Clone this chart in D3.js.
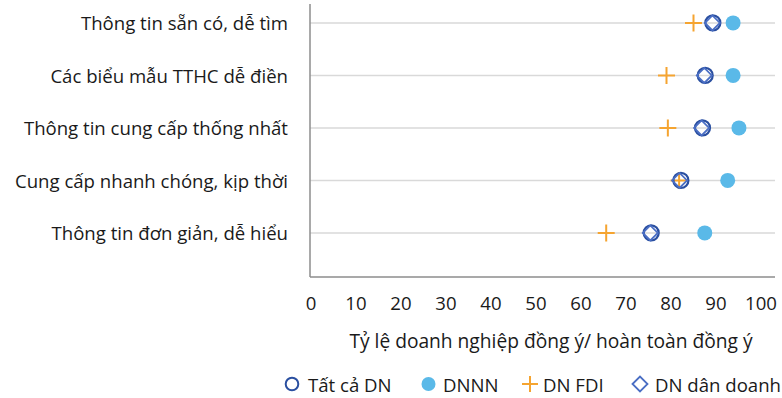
<!DOCTYPE html>
<html><head><meta charset="utf-8">
<script src="https://cdn.jsdelivr.net/npm/d3@7"></script>
<style>body{margin:0;background:#fff}svg{display:block}text{font-family:"Open Sans",sans-serif;fill:#1a1a1a}</style>
</head><body><svg id="c" width="782" height="398"></svg>
<script>
const categories = ["Thông tin sẵn có, dễ tìm","Các biểu mẫu TTHC dễ điền","Thông tin cung cấp thống nhất","Cung cấp nhanh chóng, kịp thời","Thông tin đơn giản, dễ hiểu"];
const tatCa   = [89.3, 87.6, 87.0, 82.2, 75.6];
const dnnn    = [93.8, 93.8, 95.1, 92.6, 87.5];
const fdi     = [85.0, 79.0, 79.3, 81.8, 65.6];
const danDoanh= [89.2, 87.4, 86.8, 81.9, 75.4];
const xTicks = [0,10,20,30,40,50,60,70,80,90,100];
const seriesNames = ["Tất cả DN","DNNN","DN FDI","DN dân doanh"];
const xTitle = "Tỷ lệ doanh nghiệp đồng ý/ hoàn toàn đồng ý";

const svg = d3.select("#c");
const x = d3.scaleLinear().domain([0,100]).range([311,761]);
const plotRight = 775;
const y = d3.scaleLinear().domain([-0.36, 4.84]).range([4, 277]);

svg.append("g").selectAll("line").data(categories).join("line")
  .attr("x1", 310).attr("x2", plotRight)
  .attr("y1",(d,i)=>y(i)).attr("y2",(d,i)=>y(i))
  .attr("stroke","#d9d9d9").attr("stroke-width",1.5);

svg.append("line").attr("x1",310).attr("x2",310).attr("y1",4).attr("y2",277).attr("stroke","#8c8c8c").attr("stroke-width",1.5);
svg.append("line").attr("x1",310).attr("x2",plotRight).attr("y1",277).attr("y2",277).attr("stroke","#8c8c8c").attr("stroke-width",1.5);

const fs = 18.6;
svg.append("g").selectAll("text").data(categories).join("text")
  .attr("x",288).attr("y",(d,i)=>y(i)).attr("text-anchor","end").attr("dominant-baseline","central")
  .attr("font-size",fs).text(d=>d);

svg.append("g").selectAll("text").data(xTicks).join("text")
  .attr("x",d=>x(d)).attr("y",302).attr("text-anchor","middle").attr("dominant-baseline","central")
  .attr("font-size",fs).text(d=>d);

svg.append("text").attr("x",551).attr("y",340).attr("text-anchor","middle").attr("dominant-baseline","central")
  .attr("font-size",19.2).text(xTitle);

const g = svg.append("g");
g.selectAll(".dnnn").data(dnnn).join("circle").attr("cx",d=>x(d)).attr("cy",(d,i)=>y(i)).attr("r",7.5).attr("fill","#5ab9e8");
function plusPath(cx,cy,s){return `M${cx-s},${cy}H${cx+s}M${cx},${cy-s}V${cy+s}`;}
g.selectAll(".fdi").data(fdi).join("path").attr("d",(d,i)=>plusPath(x(d),y(i),8.5)).attr("stroke","#f5a430").attr("stroke-width",2).attr("fill","none");
g.selectAll(".tc").data(tatCa).join("circle").attr("cx",d=>x(d)).attr("cy",(d,i)=>y(i)).attr("r",7.5).attr("fill","none").attr("stroke","#2a4fa0").attr("stroke-width",2.2);
function diamond(cx,cy,s){return `M${cx-s},${cy}L${cx},${cy-s}L${cx+s},${cy}L${cx},${cy+s}Z`;}
g.selectAll(".dd").data(danDoanh).join("path").attr("d",(d,i)=>diamond(x(d),y(i),7.5)).attr("fill","none").attr("stroke","#4a6ec4").attr("stroke-width",1.8);

const ly = 384;
const leg = svg.append("g");
leg.append("circle").attr("cx",292).attr("cy",ly).attr("r",6.3).attr("fill","none").attr("stroke","#2a4fa0").attr("stroke-width",2);
leg.append("circle").attr("cx",428.5).attr("cy",ly).attr("r",7).attr("fill","#5ab9e8");
leg.append("path").attr("d",plusPath(530,ly,8)).attr("stroke","#f5a430").attr("stroke-width",2);
leg.append("path").attr("d",diamond(640,ly,7.5)).attr("fill","none").attr("stroke","#4a6ec4").attr("stroke-width",1.8);
const lx = [308, 443, 543, 655];
leg.selectAll("text").data(seriesNames).join("text").attr("x",(d,i)=>lx[i]).attr("y",ly).attr("dominant-baseline","central").attr("font-size",fs).text(d=>d);
</script></body></html>
